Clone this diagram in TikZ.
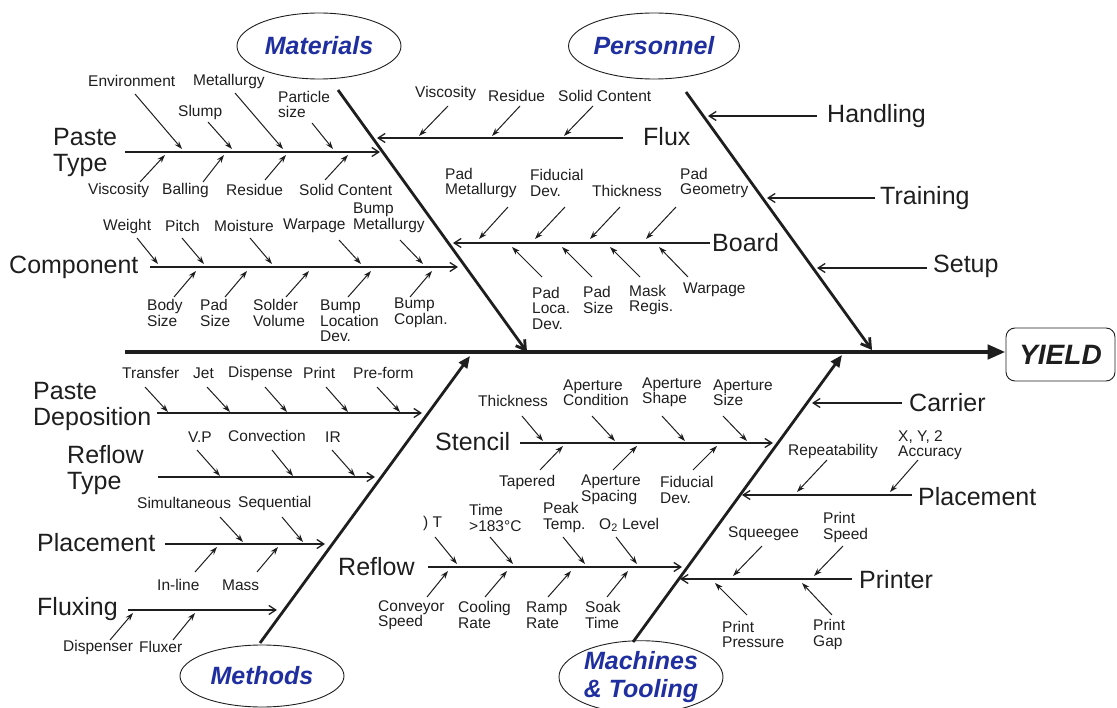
\documentclass[tikz,border=0pt]{standalone}
\usepackage{fontspec}
\setmainfont{Liberation Sans}
\usetikzlibrary{arrows.meta,shapes.geometric}
\definecolor{ink}{RGB}{30,30,30}
\definecolor{catblue}{RGB}{31,47,159}
\newcommand\lb[5][lbl]{\node[#1] (#2) at (#3,#4) {#5};}
\newcommand\ar[6][sarr]{\coordinate (#2s) at (#3,#4); \coordinate (#2e) at (#5,#6); \draw[#1] (#2s) -- (#2e);}
\begin{document}
\begin{tikzpicture}[x=1pt,y=-1pt,
  lbl/.style={font=\fontsize{15.5}{15.5}\selectfont, text=ink, inner sep=0pt, anchor=west, align=left},
  big/.style={font=\fontsize{25}{26}\selectfont, text=ink, inner sep=0pt, anchor=west, align=left},
  cat/.style={ellipse, draw=ink, line width=0.9pt, minimum width=164pt, minimum height=66pt, font=\bfseries\itshape\fontsize{25}{27}\selectfont, text=catblue, align=center, inner sep=0pt},
  sarr/.style={-{Stealth[length=8pt,width=5.5pt]}, line width=1pt, draw=ink},
  barr/.style={-{Straight Barb[length=7pt,width=9pt]}, line width=1.3pt, draw=ink},
  bonearr/.style={-{Straight Barb[length=9pt,width=11pt]}, line width=2.8pt, draw=ink},
  spinearr/.style={-{Triangle[length=18pt,width=14pt]}, line width=4.5pt, draw=ink},
  yieldbox/.style={draw=ink, rounded corners=9pt, line width=0.9pt, minimum width=109pt, minimum height=53pt, font=\bfseries\itshape\fontsize{28}{30}\selectfont, text=ink, inner sep=0pt}
]
\useasboundingbox (0,0) rectangle (1117,708);

% ---- categories and effect
\node[cat] (materials) at (319,46) {Materials};
\node[cat] (personnel) at (654,46) {Personnel};
\node[cat, minimum height=62pt] (methods) at (262,676) {Methods};
\node[cat, minimum height=62pt, font=\bfseries\itshape\fontsize{25}{28}\selectfont] (machines) at (641,677) {Machines\\\& Tooling};
\node[yieldbox] (yield) at (1060.5,354.5) {YIELD};

% ---- spine and bones
\coordinate (spS) at (125,352);
\draw[spinearr] (spS) -- (yield.west |- spS);
\coordinate (matT) at (338,90); \coordinate (matB) at (527,352);
\draw[bonearr] (matT) -- (matB);
\coordinate (perT) at (686,92); \coordinate (perB) at (872,350);
\draw[bonearr] (perT) -- (perB);
\coordinate (metB) at (260,643); \coordinate (metT) at (470,356);
\draw[bonearr,-{Triangle[length=12pt,width=10pt]}] (metB) -- (metT);
\coordinate (macB) at (633,642); \coordinate (macT) at (842,355);
\draw[bonearr,-{Triangle[length=12pt,width=10pt]}] (macB) -- (macT);

% ================= MATERIALS =================
\lb[big]{ptype}{53}{152}{Paste\\Type}
\ar[barr]{ptl}{125}{152}{380}{152}
\lb{env}{88}{81}{Environment}
\lb{slump}{178}{112}{Slump}
\lb{metal}{193}{81}{Metallurgy}
\lb{psize}{278}{104.5}{Particle\\size}
\lb{viscA}{88}{190}{Viscosity}
\lb{ball}{162}{190}{Balling}
\lb{residA}{226}{190}{Residue}
\lb{solidA}{299}{190}{Solid Content}
\ar{a1}{135}{94}{182}{149}
\ar{a2}{208}{122}{232}{149}
\ar{a3}{235}{93}{283}{149}
\ar{a4}{312}{123}{333}{149}
\ar{a5}{140}{182}{165}{155}
\ar{a6}{203}{182}{224}{155}
\ar{a7}{265}{180}{286}{155}
\ar{a8}{325}{180}{348}{155}

\lb[big]{comp}{9}{267}{Component}
\ar[barr]{cpl}{150}{267}{458}{267}
\lb{weight}{103}{226}{Weight}
\lb{pitch}{165}{226}{Pitch}
\lb{moist}{214}{226}{Moisture}
\lb{warpA}{283}{226}{Warpage}
\lb{bmet}{353}{218}{Bump\\Metallurgy}
\lb{bsize}{147}{313}{Body\\Size}
\lb{pszA}{200}{313}{Pad\\Size}
\lb{svol}{253}{313}{Solder\\Volume}
\lb{bloc}{320}{321}{Bump\\Location\\Dev.}
\lb{bcop}{394}{313}{Bump\\Coplan.}
\ar{b1}{137}{238}{158}{264}
\ar{b2}{182}{238}{204}{264}
\ar{b3}{250}{238}{272}{264}
\ar{b4}{339}{240}{361}{264}
\ar{b5}{400}{240}{423}{264}
\ar{b6}{174}{297}{196}{271}
\ar{b7}{225}{297}{247}{271}
\ar{b8}{286}{297}{309}{271}
\ar{b9}{348}{297}{371}{271}
\ar{b10}{410}{297}{432}{271}

\lb[big]{flux}{643}{137}{Flux}
\ar[barr]{fxl}{623}{138}{377}{138}
\lb{viscB}{415}{93}{Viscosity}
\lb{residB}{488}{96}{Residue}
\lb{solidB}{558}{96}{Solid Content}
\ar{c1}{448}{106}{419}{136}
\ar{c2}{520}{106}{492}{136}
\ar{c3}{593}{106}{564}{136}

\lb[big]{board}{712}{243}{Board}
\ar[barr]{bdl}{710}{243}{453}{243}
\lb{pmet}{445}{183}{Pad\\Metallurgy}
\lb{fidA}{530}{183}{Fiducial\\Dev.}
\lb{thickA}{592}{191}{Thickness}
\lb{pgeo}{680}{183}{Pad\\Geometry}
\lb{ploc}{532}{308}{Pad\\Loca.\\Dev.}
\lb{pszB}{583}{300}{Pad\\Size}
\lb{mask}{629}{300}{Mask\\Regis.}
\lb{warpB}{683}{290}{Warpage}
\ar{d1}{508}{207}{479}{239}
\ar{d2}{565}{207}{535}{239}
\ar{d3}{620}{207}{590}{239}
\ar{d4}{676}{207}{646}{239}
\ar{d5}{542}{277}{512}{247}
\ar{d6}{592}{277}{562}{247}
\ar{d7}{640}{277}{610}{247}
\ar{d8}{688}{277}{659}{247}

% ================= PERSONNEL =================
\lb[big]{handling}{827}{116}{Handling}
\lb[big]{training}{880}{198}{Training}
\lb[big]{setup}{933}{266}{Setup}
\ar[barr]{e1}{817}{116}{708}{116}
\ar[barr]{e2}{875}{198}{767}{198}
\ar[barr]{e3}{927}{268}{817}{268}

% ================= METHODS =================
\lb[big]{pdep}{33}{406.5}{Paste\\Deposition}
\ar[barr]{pdl}{157}{413}{422}{413}
\lb{transfer}{122}{373}{Transfer}
\lb{jet}{193}{373}{Jet}
\lb{dispense}{228}{373}{Dispense}
\lb{printA}{303}{373}{Print}
\lb{preform}{353}{373}{Pre-form}
\ar{f1}{145}{387}{168}{412}
\ar{f2}{207}{387}{230}{412}
\ar{f3}{265}{387}{287}{412}
\ar{f4}{326}{387}{348}{412}
\ar{f5}{377}{387}{400}{412}

\lb[big]{rtype}{67}{470}{Reflow\\Type}
\ar[barr]{rtl}{158}{477}{375}{477}
\lb{vp}{188}{437}{V.P}
\lb{convA}{228}{436}{Convection}
\lb{ir}{325}{437}{IR}
\ar{g1}{197}{450}{220}{476}
\ar{g2}{272}{450}{293}{476}
\ar{g3}{332}{450}{355}{476}

\lb[big]{placeA}{37}{543}{Placement}
\ar[barr]{pll}{165}{544}{325}{544}
\lb{simul}{137}{503}{Simultaneous}
\lb{seq}{238}{503}{Sequential}
\lb{inline}{157}{585}{In-line}
\lb{mass}{222}{585}{Mass}
\ar{h1}{220}{517}{243}{542}
\ar{h2}{282}{517}{303}{542}
\ar{h3}{195}{572}{217}{547}
\ar{h4}{257}{572}{278}{547}

\lb[big]{fluxing}{37}{609}{Fluxing}
\ar[barr]{fgl}{128}{610}{277}{610}
\lb{dispenser}{63}{647}{Dispenser}
\lb{fluxer}{139}{647}{Fluxer}
\ar{i1}{110}{640}{133}{613}
\ar{i2}{173}{640}{195}{613}

% ================= MACHINES & TOOLING =================
\lb[big]{stencil}{435}{442}{Stencil}
\ar[barr]{stl}{520}{443}{773}{443}
\lb{thickB}{478}{401}{Thickness}
\lb{apcond}{563}{392.5}{Aperture\\Condition}
\lb{apshape}{642}{392.5}{Aperture\\Shape}
\lb{apsize}{713}{392.5}{Aperture\\Size}
\lb{taper}{499}{482}{Tapered}
\lb{apsp}{581}{490}{Aperture\\Spacing}
\lb{fidB}{660}{490}{Fiducial\\Dev.}
\ar{j1}{522}{416}{543}{441}
\ar{j2}{592}{416}{615}{441}
\ar{j3}{662}{416}{685}{441}
\ar{j4}{723}{416}{747}{441}
\ar{j5}{540}{470}{563}{446}
\ar{j6}{613}{470}{637}{446}
\ar{j7}{693}{470}{717}{446}

\lb[big]{reflow}{338}{567}{Reflow}
\ar[barr]{rfl}{428}{567}{682}{567}
\lb{dT}{423}{523}{) T}
\lb{time}{469}{518}{Time\\>183°C}
\lb{peak}{543}{517.5}{Peak\\Temp.}
\lb{otwo}{599}{525}{O\textsubscript{2} Level}
\lb{convB}{378}{615}{Conveyor\\Speed}
\lb{cool}{458}{615}{Cooling\\Rate}
\lb{ramp}{526}{615}{Ramp\\Rate}
\lb{soak}{585}{615}{Soak\\Time}
\ar{k1}{435}{537}{457}{564}
\ar{k2}{490}{537}{513}{564}
\ar{k3}{563}{537}{585}{564}
\ar{k4}{616}{537}{637}{564}
\ar{k5}{427}{597}{448}{571}
\ar{k6}{485}{597}{507}{571}
\ar{k7}{548}{597}{571}{571}
\ar{k8}{607}{597}{628}{571}

\lb[big]{carrier}{909}{403}{Carrier}
\ar[barr]{cal}{902}{403}{812}{403}
\lb[big]{placeB}{918}{497}{Placement}
\ar[barr]{pbl}{912}{495}{742}{495}
\lb{repeat}{788}{451}{Repeatability}
\lb{xyacc}{898}{445}{X, Y, 2\\Accuracy}
\ar{l1}{827}{460}{797}{492}
\ar{l2}{918}{460}{890}{492}

\lb[big]{printer}{859}{580}{Printer}
\ar[barr]{prl}{852}{579}{680}{579}
\lb{squee}{728}{534}{Squeegee}
\lb{pspeed}{823}{527.5}{Print\\Speed}
\lb{ppress}{722}{634.5}{Print\\Pressure}
\lb{pgap}{813}{634.5}{Print\\Gap}
\ar{m1}{762}{546}{733}{576}
\ar{m2}{843}{546}{814}{576}
\ar{m3}{747}{615}{715}{583}
\ar{m4}{832}{615}{802}{583}
\end{tikzpicture}
\end{document}
